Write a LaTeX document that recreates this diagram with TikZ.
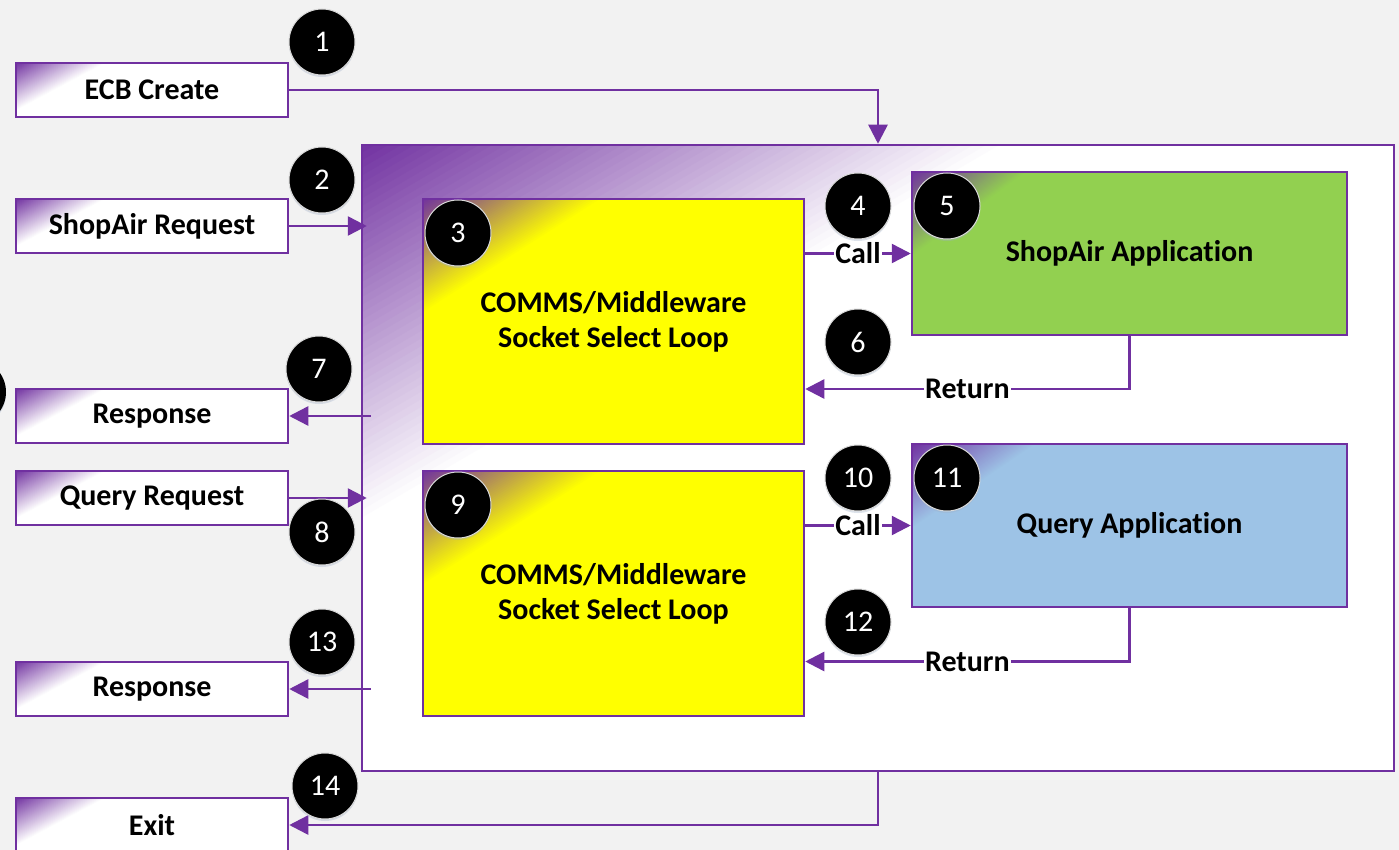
\documentclass[tikz,border=0pt]{standalone}
\usepackage{fontspec}
\setmainfont{Carlito}[Ligatures=NoCommon]
\usetikzlibrary{arrows.meta,calc,shadows}

\definecolor{cpurple}{HTML}{7030A0}
\definecolor{pagebg}{HTML}{F2F2F2}
\definecolor{cyellow}{HTML}{FFFF00}
\definecolor{cgreen}{HTML}{92D050}
\definecolor{cblue}{HTML}{9DC3E6}
\definecolor{ringgray}{HTML}{D9D9D9}
\definecolor{halo}{HTML}{9FB0C8}

\tikzset{
  % purple wash in the top-left corner of a shape, fading into its fill
  cornerfade/.style n args={3}{path picture={
    \foreach \k in {50,49,...,1}{
      \pgfmathtruncatemacro\pct{100-2*\k}
      \pgfmathsetmacro\fa{#1/50*\k}
      \pgfmathsetmacro\fb{#2/50*\k}
      \fill[cpurple!\pct!#3] (path picture bounding box.north west)
        -- ++(\fa,0) -- ++(-\fa,\fb) -- cycle;
    }}},
  iobox/.style={draw=cpurple, line width=2.5pt, fill=white,
    minimum width=272pt, minimum height=54pt, inner sep=0pt,
    font=\bfseries\fontsize{30}{35}\selectfont, cornerfade={90}{48}{white}},
  procbox/.style={draw=cpurple, line width=2.5pt, inner sep=0pt, align=center,
    font=\bfseries\fontsize{30}{35}\selectfont},
  num/.style={circle, fill=black, draw=ringgray, line width=1pt,
    minimum size=66pt, inner sep=0pt, text=white,
    font=\fontsize{30}{35}\selectfont,
    drop shadow={shadow xshift=0pt, shadow yshift=-2pt,
                 fill=halo, opacity=0.35}},
  arr/.style={draw=cpurple, line width=2.5pt,
    -{Triangle[length=19pt,width=19pt]}},
  lbl/.style={fill=white, inner sep=1pt, text=black,
    font=\bfseries\fontsize{30}{35}\selectfont},
}

\begin{document}
\begin{tikzpicture}[x=1pt, y=-1pt]
  \useasboundingbox (0,0) rectangle (1399,850);
  \fill[pagebg] (0,0) rectangle (1399,850);

  % enclosing process frame
  \node[draw=cpurple, line width=2.5pt, fill=white, minimum width=1032pt,
        minimum height=626pt, inner sep=0pt,
        cornerfade={650}{380}{white}] (main) at (878,458) {};

  % external inputs and outputs
  \node[iobox] (ecb)     at (152,90)  {ECB Create};
  \node[iobox] (shopreq) at (152,226) {ShopAir Request};
  \node[iobox] (resp1)   at (152,416) {Response};
  \node[iobox] (qreq)    at (152,498) {Query Request};
  \node[iobox] (resp2)   at (152,689) {Response};
  \node[iobox] (exit)    at (152,825) {Exit};

  % middleware loops and applications
  \node[procbox, fill=cyellow, minimum width=381pt, minimum height=245pt,
        cornerfade={180}{115}{cyellow}] (loopa) at (613.5,321.5)
        {COMMS/Middleware\\Socket Select Loop};
  \node[procbox, fill=cyellow, minimum width=381pt, minimum height=245pt,
        cornerfade={180}{115}{cyellow}] (loopb) at (613.5,593.5)
        {COMMS/Middleware\\Socket Select Loop};
  \node[procbox, fill=cgreen, minimum width=435pt, minimum height=163pt,
        cornerfade={115}{85}{cgreen}] (shopapp) at (1129.5,253.5)
        {ShopAir Application};
  \node[procbox, fill=cblue, minimum width=435pt, minimum height=163pt,
        cornerfade={125}{85}{cblue}] (qapp) at (1129.5,525.5)
        {Query Application};

  % connectors
  \draw[arr] (ecb.east) -| (main.north);
  \draw[arr, shorten >=-6pt] (shopreq.east) -- (main.west |- shopreq.east);
  \draw[arr] ($(main.west |- resp1.east)+(10,0)$) -- (resp1.east);
  \draw[arr, shorten >=-6pt] (qreq.east) -- (main.west |- qreq.east);
  \draw[arr] ($(main.west |- resp2.east)+(10,0)$) -- (resp2.east);
  \draw[arr] (main.south) |- (exit.east);

  \draw[arr] (loopa.east |- shopapp.west) -- node[lbl] {Call} (shopapp.west);
  \draw[arr] (shopapp.south) |- node[lbl, pos=0.75] {Return}
        ([yshift=-67.5pt]loopa.east);
  \draw[arr] (loopb.east |- qapp.west) -- node[lbl] {Call} (qapp.west);
  \draw[arr] (qapp.south) |- node[lbl, pos=0.75] {Return}
        ([yshift=-68pt]loopb.east);

  % step markers
  \node[num] (n1)  at (322,42)  {1};
  \node[num] (n2)  at (322,180) {2};
  \node[num] (n3)  at (458,233) {3};
  \node[num] (n4)  at (858,206) {4};
  \node[num] (n5)  at (947,206) {5};
  \node[num] (n6)  at (858,342) {6};
  \node[num] (n7)  at (319,369) {7};
  \node[num] (n8)  at (322,532) {8};
  \node[num] (n9)  at (458,505) {9};
  \node[num] (n10) at (858,478) {10};
  \node[num] (n11) at (947,478) {11};
  \node[num] (n12) at (858,622) {12};
  \node[num] (n13) at (322,642) {13};
  \node[num] (n14) at (325,786) {14};
  \node[num, draw=none] (edgemark) at (-27,392) {};
\end{tikzpicture}
\end{document}
